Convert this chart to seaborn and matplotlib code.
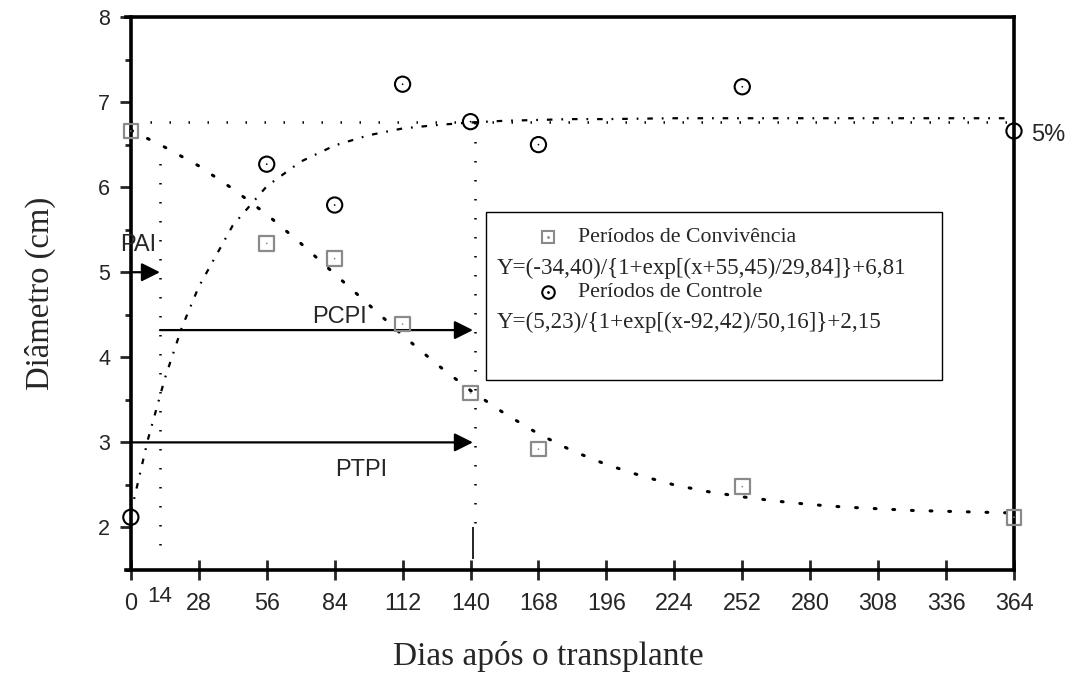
import numpy as np
import matplotlib
matplotlib.use('Agg')
import matplotlib.pyplot as plt
import seaborn as sns
from matplotlib.patches import Rectangle
from matplotlib.ticker import MultipleLocator

# dados
dias = [0, 56, 84, 112, 140, 168, 252, 364]
convivencia = [6.66, 5.34, 5.16, 4.39, 3.58, 2.92, 2.48, 2.12]
controle = [2.12, 6.27, 5.79, 7.21, 6.77, 6.50, 7.18, 6.66]

# curvas ajustadas
dec_x = [0, 14, 28, 42, 56, 70, 84, 98, 112, 126, 140, 154, 168, 182, 196, 210,
         224, 238, 252, 266, 280, 294, 308, 322, 336, 350, 364]
dec_y = [6.67, 6.47, 6.25, 5.98, 5.68, 5.34, 4.98, 4.62, 4.26, 3.92, 3.61, 3.34,
         3.10, 2.90, 2.74, 2.61, 2.50, 2.42, 2.36, 2.31, 2.27, 2.24, 2.22, 2.20,
         2.19, 2.18, 2.17]
inc_x = [0, 7, 14, 21, 28, 42, 56, 70, 84, 98, 112, 126, 140, 154, 168, 182, 196,
         224, 252, 280, 308, 336, 364]
inc_y = [2.17, 3.03, 3.75, 4.35, 4.83, 5.55, 6.01, 6.30, 6.49, 6.61, 6.69, 6.73,
         6.76, 6.78, 6.79, 6.80, 6.80, 6.81, 6.81, 6.81, 6.81, 6.81, 6.81]

xticks = [0, 28, 56, 84, 112, 140, 168, 196, 224, 252, 280, 308, 336, 364]
nivel_5 = 6.76

sns.set_style('ticks')
plt.rcParams['font.family'] = ['Liberation Sans', 'DejaVu Sans']
serif = ['Liberation Serif', 'DejaVu Serif']

fig = plt.figure(figsize=(10.7, 6.75), dpi=100)
ax = fig.add_axes([126/1070, 1-570/675, (1014-126)/1070, (570-17)/675])

# curvas
sns.lineplot(x=dec_x, y=dec_y, ax=ax, color='black', lw=2.2,
             linestyle=(0, (0.6, 5.5)), dash_capstyle='round')
sns.lineplot(x=inc_x, y=inc_y, ax=ax, color='black', lw=1.6,
             linestyle=(0, (2.5, 4, 0.8, 4)))
ax.hlines(nivel_5, 0, 364, colors='black', lw=1.8, linestyles=(0, (0.6, 7)))

# linhas verticais de referencia
ax.vlines(12, 1.79, 6.42, colors='black', lw=1.8, linestyles=(0, (0.6, 7)))
ax.vlines(142, 2.05, nivel_5, colors='black', lw=1.8, linestyles=(0, (0.6, 7)))
ax.vlines(141, 1.63, 2.0, colors='black', lw=1.2)

# pontos
sns.scatterplot(x=dias, y=convivencia, ax=ax, marker='s', s=110, fc='none',
                ec='#8a8a8a', linewidth=1.6, zorder=5, clip_on=False)
sns.scatterplot(x=dias, y=convivencia, ax=ax, marker='.', s=6, color='#8a8a8a',
                ec='none', zorder=6, clip_on=False)
sns.scatterplot(x=dias, y=controle, ax=ax, marker='o', s=120, fc='none',
                ec='black', linewidth=1.5, zorder=5, clip_on=False)
sns.scatterplot(x=dias, y=controle, ax=ax, marker='.', s=6, color='black',
                ec='none', zorder=6, clip_on=False)

# setas
seta = dict(arrowstyle='-|>', mutation_scale=28, lw=1.6, color='black',
            shrinkA=0, shrinkB=0)
ax.annotate('', xy=(12, 5.0), xytext=(0, 5.0), arrowprops=seta)
ax.annotate('', xy=(141, 4.32), xytext=(12, 4.32), arrowprops=seta)
ax.annotate('', xy=(141, 3.0), xytext=(0, 3.0), arrowprops=seta)
ax.text(-4.5, 5.32, 'PAI', fontsize=17, ha='left', va='center', clip_on=False)
ax.text(86, 4.47, 'PCPI', fontsize=17, ha='center', va='center')
ax.text(95, 2.67, 'PTPI', fontsize=17, ha='center', va='center')
ax.text(371, 6.61, '5%', fontsize=17, ha='left', va='center', clip_on=False)
ax.text(12, 1.19, '14', fontsize=16, ha='center', va='center', clip_on=False)

# caixa de legenda
ax.add_patch(Rectangle((146.3, 3.73), 188, 1.98, fc='white', ec='black',
                       lw=1.0, zorder=7))
ax.plot(172, 5.41, marker='s', ms=9, mfc='none', mec='#8a8a8a', mew=1.5, zorder=8)
ax.plot(172, 5.41, marker='.', ms=2, color='#8a8a8a', zorder=8)
ax.plot(172, 4.765, marker='o', ms=9, mfc='none', mec='black', mew=1.5, zorder=8)
ax.plot(172, 4.765, marker='.', ms=2, color='black', zorder=8)
ax.text(184.3, 5.41, 'Períodos de Convivência', family=serif, fontsize=15.7,
        va='center', zorder=8)
ax.text(150.9, 5.05, 'Y=(-34,40)/{1+exp[(x+55,45)/29,84]}+6,81', family=serif,
        fontsize=16.6, va='center', zorder=8)
ax.text(184.3, 4.765, 'Períodos de Controle', family=serif, fontsize=15.7,
        va='center', zorder=8)
ax.text(150.9, 4.41, 'Y=(5,23)/{1+exp[(x-92,42)/50,16]}+2,15', family=serif,
        fontsize=16.6, va='center', zorder=8)

# eixos
ax.set_xlim(-2, 364)
ax.set_ylim(1.5, 8)
ax.spines['left'].set_position(('data', 0))
for s in ax.spines.values():
    s.set_linewidth(2.6)
    s.set_color('black')
ax.set_xticks(xticks)
ax.set_yticks(range(2, 9))
ax.yaxis.set_minor_locator(MultipleLocator(0.5))
ax.tick_params(axis='x', direction='inout', length=15, width=2, labelsize=16.8,
               pad=8)
ax.tick_params(axis='y', which='major', direction='out', length=8, width=2,
               labelsize=15.5, pad=7)
ax.tick_params(axis='y', which='minor', direction='out', length=4, width=2)
ax.set_xlabel('Dias após o transplante', family=serif, fontsize=24)
ax.xaxis.set_label_coords((548 - 126) / 888, -0.128)
ax.set_ylabel('Diâmetro (cm)', family=serif, fontsize=23.5, labelpad=30)

plt.savefig('out.png', dpi=100)
